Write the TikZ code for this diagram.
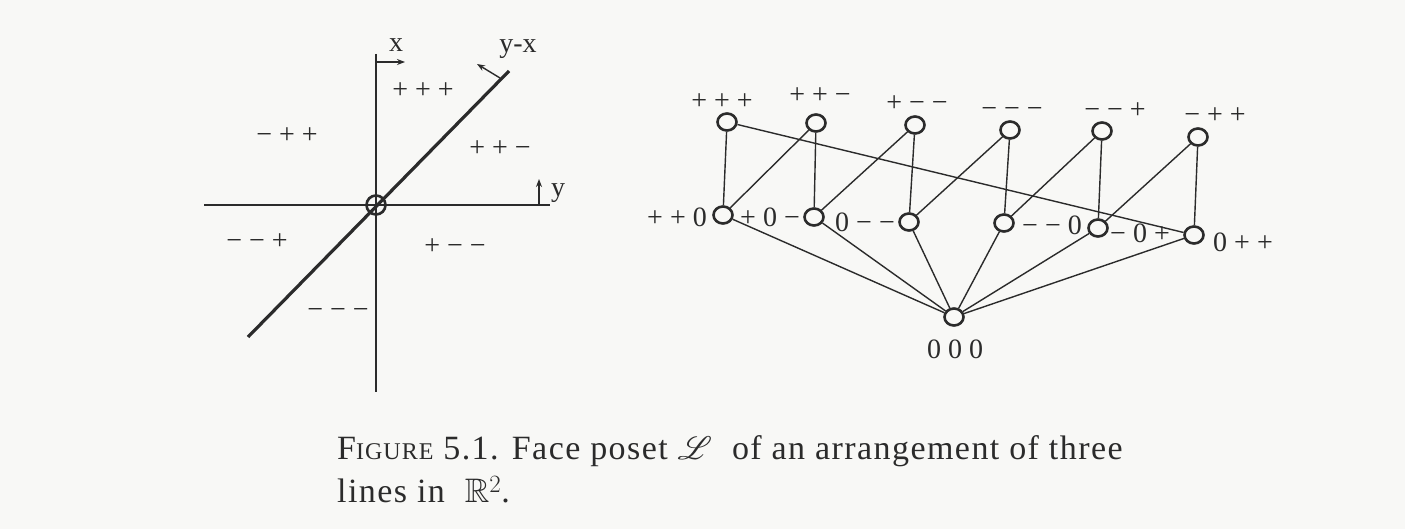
\documentclass[tikz,border=0pt]{standalone}
\usepackage{fontspec}
\setmainfont{Liberation Serif}
\usepackage{amssymb}
\usepackage{mathrsfs}
\usetikzlibrary{arrows.meta,shapes.geometric}
\definecolor{ink}{HTML}{2B2B2B}
\definecolor{paper}{HTML}{F8F8F6}
\tikzset{
  lbl/.style={font=\fontsize{28}{28}\selectfont, text=ink, inner sep=0pt, anchor=base},
  vtx/.style={ellipse, draw=ink, line width=2.6pt, fill=paper, minimum width=19pt, minimum height=17pt, inner sep=0pt},
  edge/.style={draw=ink, line width=1.4pt},
  axisline/.style={draw=ink, line width=1.8pt},
  thickline/.style={draw=ink, line width=3.2pt},
  smallarrow/.style={draw=ink, line width=1.4pt, -{Stealth[length=8pt,width=6pt]}},
  capt/.style={font={\fontsize{34}{34}\selectfont\addfontfeature{LetterSpace=4.2}}, text=ink, inner sep=0pt, anchor=base west},
}
\begin{document}
\begin{tikzpicture}[x=1pt,y=-1pt]
\fill[paper] (0,0) rectangle (1405,529);
\useasboundingbox (0,0) rectangle (1405,529);

% ---------- left figure: three lines in the plane ----------
\coordinate (vtop) at (376,54);
\coordinate (vbot) at (376,392);
\coordinate (hleft) at (204,205);
\coordinate (hright) at (550,205);
\coordinate (dlow) at (248,337);
\coordinate (dhigh) at (509,71);
\draw[axisline] (vtop) -- (vbot);
\draw[axisline] (hleft) -- (hright);
\draw[thickline] (dlow) -- (dhigh);
\node[circle, draw=ink, line width=2.6pt, minimum size=19pt, inner sep=0pt] (origin) at (376,205) {};

\coordinate (xa0) at (376,62);  \coordinate (xa1) at (405,62);
\coordinate (ya0) at (539,205); \coordinate (ya1) at (539,179);
\coordinate (da0) at (500,78);  \coordinate (da1) at (477,64);
\draw[smallarrow] (xa0) -- (xa1);
\draw[smallarrow] (ya0) -- (ya1);
\draw[smallarrow] (da0) -- (da1);
\node[lbl] (xl) at (396,52) {x};
\node[lbl] (yl) at (558,197) {y};
\node[lbl] (dl) at (518,53) {y-x};

\node[lbl] (r1) at (423,99) {+ + +};
\node[lbl] (r2) at (287,144) {− + +};
\node[lbl] (r3) at (500,157) {+ + −};
\node[lbl] (r4) at (257,250) {− − +};
\node[lbl] (r5) at (455,255) {+ − −};
\node[lbl] (r6) at (338,319) {− − −};

% ---------- right figure: face poset ----------
\node[vtx] (ppp) at (727,122) {};
\node[vtx] (ppm) at (816,123) {};
\node[vtx] (pmm) at (915,125) {};
\node[vtx] (mmm) at (1010,130) {};
\node[vtx] (mmp) at (1102,131) {};
\node[vtx] (mpp) at (1198,137) {};

\node[vtx] (ppz) at (723,215) {};
\node[vtx] (pzm) at (814,217) {};
\node[vtx] (zmm) at (909,222) {};
\node[vtx] (mmz) at (1004,223) {};
\node[vtx] (mzp) at (1098,228) {};
\node[vtx] (zpp) at (1194,235) {};

\node[vtx] (zzz) at (954,317) {};

\draw[edge] (ppz) -- (ppp);
\draw[edge] (ppz) -- (ppm);
\draw[edge] (pzm) -- (ppm);
\draw[edge] (pzm) -- (pmm);
\draw[edge] (zmm) -- (pmm);
\draw[edge] (zmm) -- (mmm);
\draw[edge] (mmz) -- (mmm);
\draw[edge] (mmz) -- (mmp);
\draw[edge] (mzp) -- (mmp);
\draw[edge] (mzp) -- (mpp);
\draw[edge] (zpp) -- (mpp);
\draw[edge] (zpp) -- (ppp);
\foreach \n in {ppz,pzm,zmm,mmz,mzp,zpp} \draw[edge] (zzz) -- (\n);

\node[lbl] (lppp) at (722,110) {+ + +};
\node[lbl] (lppm) at (820,104) {+ + −};
\node[lbl] (lpmm) at (917,112) {+ − −};
\node[lbl] (lmmm) at (1012,118) {− − −};
\node[lbl] (lmmp) at (1115,119) {− − +};
\node[lbl] (lmpp) at (1215,124) {− + +};

\node[lbl] (lppz) at (677,227) {+ + 0};
\node[lbl] (lpzm) at (770,227) {+ 0 −};
\node[lbl] (lzmm) at (865,232) {0 − −};
\node[lbl] (lmmz) at (1052,235) {− − 0};
\node[lbl] (lmzp) at (1140,243) {− 0 +};
\node[lbl] (lzpp) at (1243,252) {0 + +};
\node[lbl] (lzzz) at (955,358) {0 0 0};

% ---------- caption ----------
\node[capt] (cap1) at (337,459) {F{\fontsize{24}{24}\selectfont IGURE} 5.1. Face poset \scalebox{1.3}{$\mathscr{L}$}\ \ of an arrangement of three};
\node[capt] (cap2) at (337,502) {lines in\ \ $\mathbb{R}^2$.};
\end{tikzpicture}
\end{document}
